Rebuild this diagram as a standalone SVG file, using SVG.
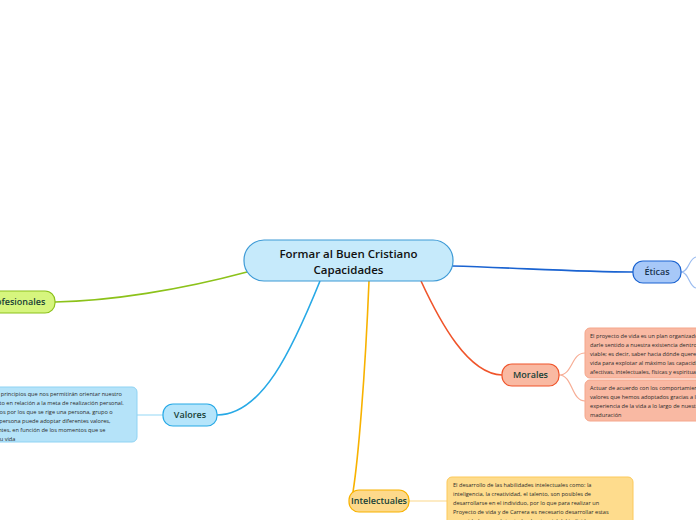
<svg xmlns="http://www.w3.org/2000/svg" width="696" height="520" viewBox="0 0 696 520">
<style>
text{font-family:"Open Sans","Noto Sans","Liberation Sans",sans-serif}
.c{fill:none;stroke-width:1.6}
.s{fill:none;stroke-width:1.2}
.nt{font-size:9px;fill:#173f36;text-anchor:middle;font-weight:600}
.bt{font-size:5.6px;fill:#2a2a2a}
</style>
<rect width="696" height="520" fill="#ffffff"/>
<g id="connectors">
<path class="c" d="M247 272 C180 290 110 301 55 302" stroke="#8cc21a"/>
<path class="c" d="M320 281 C292 350 262 415 217 415" stroke="#27a9e6"/>
<path class="c" d="M369 281 C365 380 358 460 353 492 Q352 498 355 500" stroke="#f8b200"/>
<path class="c" d="M421 281 C440 322 468 374 502 375" stroke="#f0542a"/>
<path class="c" d="M452 266 C520 268 580 272 633 272" stroke="#1a63d1"/>
<path class="s" d="M137 415 L163 415" stroke="#a6def7"/>
<path class="s" d="M559 375 C573 375 571 353 585 353 M559 375 C573 375 571 401 585 401" stroke="#f7ad95"/>
<path class="s" d="M409 501 L447 501" stroke="#fcd88a"/>
<path class="s" d="M681 272 C689 272 689 258 696 257 M681 272 C689 272 689 287 696 288" stroke="#9bbcf0"/>
</g>
<g id="center">
<rect x="244" y="240" width="209" height="41" rx="20" fill="#c6eafb" stroke="#3d9ad6" stroke-width="1.2"/>
<text x="348.5" y="258" font-size="11.5" font-weight="600" fill="#111" text-anchor="middle">Formar al Buen Cristiano</text>
<text x="348.5" y="274" font-size="11.5" font-weight="600" fill="#111" text-anchor="middle">Capacidades</text>
</g>
<g id="profesionales">
<rect x="-23" y="291" width="78" height="22" rx="10" fill="#d6f57e" stroke="#8cc21a" stroke-width="1.2"/>
<text class="nt" x="16" y="305">Profesionales</text>
</g>
<g id="valores">
<rect x="163" y="404" width="54" height="22" rx="10" fill="#b5e5fb" stroke="#27a9e6" stroke-width="1.2"/>
<text class="nt" x="190" y="418">Valores</text>
</g>
<g id="valores-text">
<rect x="-40" y="387" width="177" height="55" rx="5" fill="#b5e3f9" stroke="#8fd3f3" stroke-width="1"/>
<text class="bt"><tspan x="-34" y="396">Son aquellos principios que nos permitirán orientar nuestro</tspan><tspan x="-39" y="405">comportamiento en relación a la meta de realización personal.</tspan><tspan x="-27" y="414">Son criterios por los que se rige una persona, grupo o</tspan><tspan x="-39" y="423">sociedad. Una persona puede adoptar diferentes valores,</tspan><tspan x="-35" y="432">más importantes, en función de los momentos que se</tspan><tspan x="-39" y="441">presentan en su vida</tspan></text>
</g>
<g id="morales">
<rect x="502" y="364" width="57" height="22" rx="10" fill="#f9b9a2" stroke="#f0542a" stroke-width="1.2"/>
<text class="nt" x="530.5" y="378">Morales</text>
</g>
<g id="morales-text-1">
<rect x="585" y="328" width="130" height="50" rx="5" fill="#f9b9a3" stroke="#f5a68b" stroke-width="1"/>
<text class="bt"><tspan x="590" y="338">El proyecto de vida es un plan organizado que nos permite</tspan><tspan x="590" y="347">darle sentido a nuestra existencia dentro de un marco</tspan><tspan x="590" y="356">viable; es decir, saber hacia dónde queremos ir en la</tspan><tspan x="590" y="365">vida para explotar al máximo las capacidades</tspan><tspan x="590" y="374">afectivas, intelectuales, físicas y espirituales</tspan></text>
</g>
<g id="morales-text-2">
<rect x="585" y="380" width="130" height="41" rx="5" fill="#f9b9a3" stroke="#f5a68b" stroke-width="1"/>
<text class="bt"><tspan x="590" y="390">Actuar de acuerdo con los comportamientos y</tspan><tspan x="590" y="399">valores que hemos adoptados gracias a la</tspan><tspan x="590" y="408">experiencia de la vida a lo largo de nuestra</tspan><tspan x="590" y="417">maduración</tspan></text>
</g>
<g id="intelectuales">
<rect x="349" y="490" width="60" height="22" rx="10" fill="#fdd98b" stroke="#f8b200" stroke-width="1.2"/>
<text class="nt" x="379" y="504">Intelectuales</text>
</g>
<g id="intelectuales-text">
<rect x="447" y="477" width="186" height="55" rx="5" fill="#fedc8d" stroke="#fcc95a" stroke-width="1"/>
<text class="bt"><tspan x="453" y="487">El desarrollo de las habilidades intelectuales como: la</tspan><tspan x="453" y="496">inteligencia, la creatividad, el talento, son posibles de</tspan><tspan x="453" y="505">desarrollarse en el individuo, por lo que para realizar un</tspan><tspan x="453" y="514">Proyecto de vida y de Carrera es necesario desarrollar estas</tspan><tspan x="453" y="523">capacidades y explotar todo el potencial del individuo.</tspan></text>
</g>
<g id="eticas">
<rect x="633" y="261" width="48" height="22" rx="10" fill="#a7c8f8" stroke="#1a63d1" stroke-width="1.2"/>
<text class="nt" x="657" y="275" style="fill:#1a3550">Éticas</text>
</g>
</svg>
